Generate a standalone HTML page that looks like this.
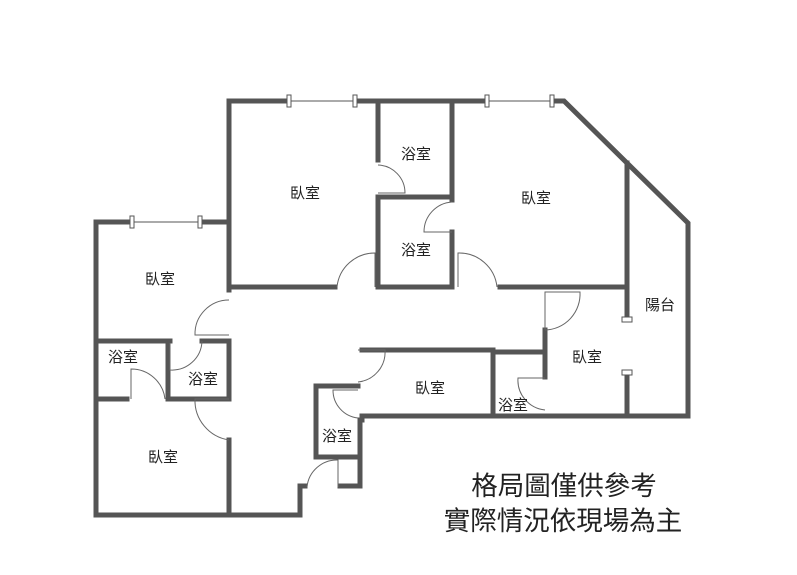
<!DOCTYPE html>
<html><head><meta charset="utf-8"><style>
html,body{margin:0;padding:0;background:#fff;width:797px;height:575px;overflow:hidden}
svg{display:block}
text{font-family:"Liberation Sans","Noto Sans CJK TC",sans-serif;fill:#222}
</style></head><body>
<svg width="797" height="575" viewBox="0 0 797 575" xmlns="http://www.w3.org/2000/svg">
<g fill="none" stroke="#555" stroke-width="5" stroke-linejoin="miter" stroke-linecap="square">
<polyline points="229,287 229,101 289,101"/>
<polyline points="355,101 487,101"/>
<polyline points="552,101 564,101 688,223 688,416 362,416"/>
<polyline points="229,222 200,222"/>
<polyline points="132,222 96,222 96,515 300,515 300,486 305,486"/>
<polyline points="229,222 229,290"/>
<polyline points="229,287 335,287"/>
<polyline points="378,101 378,160"/>
<polyline points="378,197 378,287 452,287 452,232"/>
<polyline points="378,197 452,197 452,101"/>
<polyline points="452,200 452,197"/>
<polyline points="500,287 627,287"/>
<polyline points="627,163 627,317"/>
<polyline points="627,372 627,416"/>
<polyline points="545,330 545,377"/>
<polyline points="362,350 493,350 493,416"/>
<polyline points="493,352 545,352"/>
<polyline points="362,417 362,420"/>
<polyline points="360,420 360,486 340,486"/>
<polyline points="358,386 316,386 316,457 358,457"/>
<polyline points="96,341 170,341"/>
<polyline points="202,341 229,341 229,399 168,399"/>
<polyline points="168,341 168,399"/>
<polyline points="96,399 127,399"/>
<polyline points="229,440 229,515"/>
</g>
<g stroke="#555" stroke-width="1" fill="#fff">
<line x1="289" y1="101" x2="355" y2="101"/>
<line x1="487" y1="101" x2="552" y2="101"/>
<line x1="132" y1="222" x2="200" y2="222"/>
<rect x="287" y="95" width="4" height="12"/><rect x="353" y="95" width="4" height="12"/>
<rect x="485" y="95" width="4" height="12"/><rect x="550" y="95" width="4" height="12"/>
<rect x="130" y="216" width="4" height="12"/><rect x="198" y="216" width="4" height="12"/>
<rect x="622" y="317" width="10" height="5"/><rect x="622" y="370" width="10" height="5"/>
</g>
<g stroke="#666" stroke-width="1" fill="none">
<path d="M229,335 L195,335 A34,34 0 0 1 229,300"/>
<path d="M375,287 L375,253 A38,38 0 0 0 337,287"/>
<path d="M378,193 L405,193 A28,28 0 0 0 378,165"/>
<path d="M452,232 L424,232 A30,30 0 0 1 452,202"/>
<path d="M458,287 L458,253 A38,38 0 0 1 497,287"/>
<path d="M545,330 L545,292 L580,292 A36,36 0 0 1 545,330"/>
<path d="M545,378 L518,378 A30,30 0 0 0 545,410"/>
<path d="M358,350 L385,350 A30,30 0 0 1 358,382"/>
<path d="M358,390 L333,390 A28,28 0 0 0 358,418"/>
<path d="M338,487 L338,460 A30,30 0 0 0 307,487"/>
<path d="M170,343 L170,370 A30,30 0 0 0 202,341"/>
<path d="M131,399 L131,369 A34,34 0 0 1 165,399"/>
<path d="M229,399 L195,399 A40,40 0 0 0 229,440"/>
</g>
<g font-size="15" text-anchor="middle">
<text x="305" y="198">臥室</text>
<text x="416" y="159">浴室</text>
<text x="536" y="203">臥室</text>
<text x="416" y="255">浴室</text>
<text x="160" y="284">臥室</text>
<text x="660" y="310">陽台</text>
<text x="587" y="362">臥室</text>
<text x="123" y="362">浴室</text>
<text x="203" y="384">浴室</text>
<text x="430" y="393">臥室</text>
<text x="513" y="410">浴室</text>
<text x="337" y="441">浴室</text>
<text x="163" y="462">臥室</text>
</g>
<g font-size="26.5" text-anchor="middle">
<text x="564" y="495">格局圖僅供參考</text>
<text x="563" y="530">實際情況依現場為主</text>
</g>
</svg>
</body></html>
